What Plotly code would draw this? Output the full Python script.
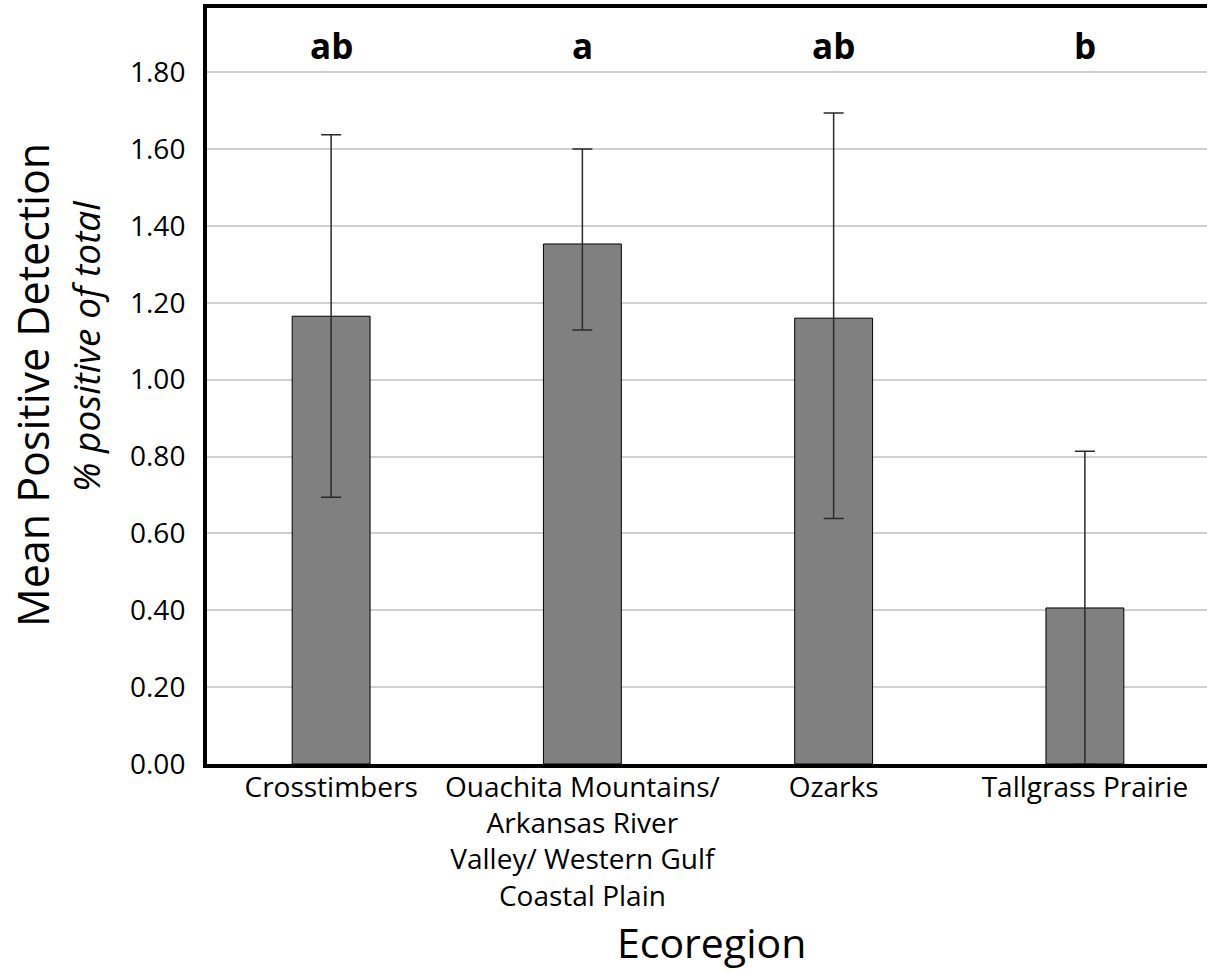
import plotly.graph_objects as go

categories = ["Crosstimbers",
              "Ouachita Mountains/<br>Arkansas River<br>Valley/ Western Gulf<br>Coastal Plain",
              "Ozarks", "Tallgrass Prairie"]
means = [1.165, 1.353, 1.160, 0.406]
errors_plus = [0.472, 0.247, 0.534, 0.408]
errors_minus = [0.471, 0.224, 0.521, 0.406]
letters = ["ab", "a", "ab", "b"]
y_ticks = [0.0, 0.2, 0.4, 0.6, 0.8, 1.0, 1.2, 1.4, 1.6, 1.8]
y_title_1 = "Mean Positive Detection"
y_title_2 = "% positive of total"
x_title = "Ecoregion"

FONT = "Open Sans"
W, H = 1207, 972
L, R, T, B = 207, 0, 8, 208
PW, PH = W - L - R, H - T - B


def px_x(px):
    return (px - L) / PW


def px_y(py):
    return (H - B - py) / PH


fig = go.Figure()
fig.add_trace(go.Bar(
    x=categories, y=means, width=0.31,
    marker=dict(color="#808080", line=dict(color="#000000", width=1)),
    error_y=dict(type="data", array=errors_plus, arrayminus=errors_minus,
                 symmetric=False, visible=True,
                 color="#2a2a2a", thickness=1.5, width=10),
    showlegend=False, hoverinfo="skip",
))

for c, l in zip(categories, letters):
    fig.add_annotation(x=c, y=1.87, xref="x", yref="y", text="<b>%s</b>" % l,
                       showarrow=False, yanchor="middle",
                       font=dict(family=FONT, size=35, color="#000000"))

fig.add_annotation(x=px_x(32), y=px_y(385), xref="paper", yref="paper",
                   text=y_title_1, textangle=-90, showarrow=False,
                   xanchor="center", yanchor="middle",
                   font=dict(family=FONT, size=43, color="#000000"))
fig.add_annotation(x=px_x(85), y=px_y(346), xref="paper", yref="paper",
                   text="<i>%s</i>" % y_title_2, textangle=-90, showarrow=False,
                   xanchor="center", yanchor="middle",
                   font=dict(family=FONT, size=37, color="#000000"))
fig.add_annotation(x=px_x(711), y=px_y(942), xref="paper", yref="paper",
                   text=x_title, showarrow=False,
                   xanchor="center", yanchor="middle",
                   font=dict(family=FONT, size=41, color="#000000"))

fig.update_layout(
    width=W, height=H,
    margin=dict(l=L, r=R, t=T, b=B, autoexpand=False),
    paper_bgcolor="white", plot_bgcolor="white",
    font=dict(family=FONT, color="#000000"),
)
fig.update_xaxes(
    range=[-0.494, 3.486],
    showline=True, linecolor="#000000", linewidth=4, mirror=True,
    tickfont=dict(family=FONT, size=28, color="#000000"),
    ticks="", showgrid=False, ticklabelstandoff=-5,
)
fig.update_yaxes(
    range=[0, 1.967],
    tickvals=y_ticks, ticktext=["%.2f" % v for v in y_ticks],
    showline=True, linecolor="#000000", linewidth=4,
    showgrid=True, gridcolor="#d0d0d0", gridwidth=1.5,
    zeroline=False,
    tickfont=dict(family=FONT, size=28, color="#000000"),
    ticks="", ticklabelstandoff=12,
)

fig.write_html(
    "out.html",
    config={"displayModeBar": False},
    post_script="document.body.style.margin='0';document.body.style.overflow='hidden';",
)
